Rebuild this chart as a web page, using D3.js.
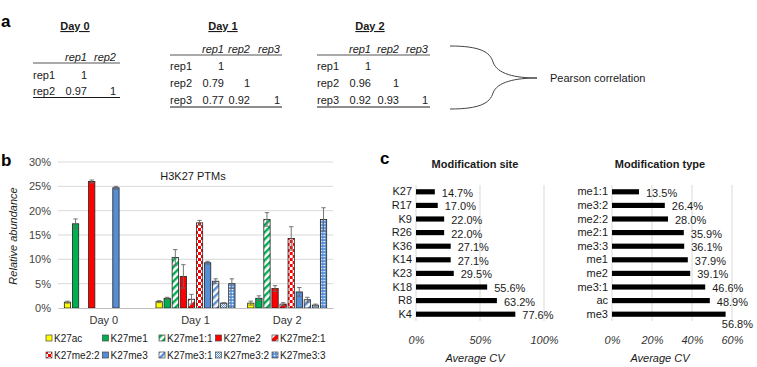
<!DOCTYPE html>
<html>
<head>
<meta charset="utf-8">
<script src="https://cdn.jsdelivr.net/npm/d3@7"></script>
<style>
  body { margin: 0; background: #fff; }
  svg { font-family: "Liberation Sans", Arial, sans-serif; }
</style>
</head>
<body>
<svg id="fig" width="757" height="367"></svg>
<script>
// panel a: replicate correlation tables
const day0Reps = ['rep1', 'rep2']
const day0Corr = [[1], [0.97, 1]]
const day1Reps = ['rep1', 'rep2', 'rep3']
const day1Corr = [[1], [0.79, 1], [0.77, 0.92, 1]]
const day2Reps = ['rep1', 'rep2', 'rep3']
const day2Corr = [[1], [0.96, 1], [0.92, 0.93, 1]]

// panel b: H3K27 PTMs relative abundance (%)
const days = ['Day 0', 'Day 1', 'Day 2']
const ptms = ['K27ac', 'K27me1', 'K27me1:1', 'K27me2', 'K27me2:1',
  'K27me2:2', 'K27me3', 'K27me3:1', 'K27me3:2', 'K27me3:3']
const day0Mean = [1.2, 17.3, 0, 26.0, 0, 0, 24.7, 0, 0, 0]
const day0Err = [0.2, 1.0, 0, 0.3, 0, 0, 0.3, 0, 0, 0]
const day1Mean = [1.3, 2.0, 10.4, 6.5, 1.8, 17.5, 9.3, 5.5, 1.0, 5.0]
const day1Err = [0.2, 0.2, 1.6, 2.4, 1.0, 0.5, 0.3, 0.5, 0.1, 1.0]
const day2Mean = [1.0, 2.0, 18.2, 4.0, 0.8, 14.3, 3.3, 1.7, 0.6, 18.2]
const day2Err = [0.4, 0.5, 1.4, 0.6, 0.3, 2.4, 0.9, 0.5, 0.2, 2.4]
const abundanceTicks = [0, 5, 10, 15, 20, 25, 30]

// panel c: average CV (%)
const sites = ['K27', 'R17', 'K9', 'R26', 'K36', 'K14', 'K23', 'K18', 'R8', 'K4']
const siteCV = [14.7, 17.0, 22.0, 22.0, 27.1, 27.1, 29.5, 55.6, 63.2, 77.6]
const types = ['me1:1', 'me3:2', 'me2:2', 'me2:1', 'me3:3', 'me1', 'me2', 'me3:1', 'ac', 'me3']
const typeCV = [13.5, 26.4, 28.0, 35.9, 36.1, 37.9, 39.1, 46.6, 48.9, 56.8]
const siteTicks = [0, 50, 100]
const typeTicks = [0, 20, 40, 60]

const svg = d3.select('#fig')
const ink = '#1a1a1a'
const grid = '#d9d9d9'

const green = '#00b050', red = '#ff0000', blue = '#558ed5', yellow = '#ffff00'

// ---------- patterns ----------
const defs = svg.append('defs')

function stripes(id, color, size, band) {
  const p = defs.append('pattern').attr('id', id)
    .attr('patternUnits', 'userSpaceOnUse')
    .attr('width', size).attr('height', size)
    .attr('patternTransform', 'rotate(45)')
  p.append('rect').attr('width', size).attr('height', size).attr('fill', '#fff')
  p.append('rect').attr('width', band).attr('height', size).attr('fill', color)
}
function checker(id, color, cell) {
  const p = defs.append('pattern').attr('id', id)
    .attr('patternUnits', 'userSpaceOnUse')
    .attr('width', cell * 2).attr('height', cell * 2)
  p.append('rect').attr('width', cell * 2).attr('height', cell * 2).attr('fill', '#fff')
  p.append('rect').attr('width', cell).attr('height', cell).attr('fill', color)
  p.append('rect').attr('x', cell).attr('y', cell).attr('width', cell).attr('height', cell).attr('fill', color)
}
function dots(id, color) {
  const p = defs.append('pattern').attr('id', id)
    .attr('patternUnits', 'userSpaceOnUse')
    .attr('width', 3).attr('height', 3)
  p.append('rect').attr('width', 3).attr('height', 3).attr('fill', color)
  p.append('circle').attr('cx', 1.5).attr('cy', 1.5).attr('r', 0.85).attr('fill', '#fff')
}
stripes('p-me11', green, 5, 2.4)
stripes('p-me21', red, 8, 4)
checker('p-me22', red, 3)
stripes('p-me31', blue, 5, 2.4)
checker('p-me32', blue, 1)
dots('p-me33', blue)

const fills = [yellow, green, 'url(#p-me11)', red, 'url(#p-me21)',
  'url(#p-me22)', blue, 'url(#p-me31)', 'url(#p-me32)', 'url(#p-me33)']

// ---------- panel letters ----------
svg.append('text').attr('x', 1).attr('y', 27).attr('font-size', 17).attr('font-weight', 'bold').text('a')
svg.append('text').attr('x', 1).attr('y', 166).attr('font-size', 17).attr('font-weight', 'bold').text('b')
svg.append('text').attr('x', 380).attr('y', 164).attr('font-size', 17).attr('font-weight', 'bold').text('c')

// ---------- panel a ----------
function drawTable(title, reps, corr, box) {
  const g = svg.append('g').attr('font-size', 11).attr('fill', ink)
  g.append('text')
    .attr('x', box.titleX).attr('y', 30)
    .attr('text-anchor', 'middle')
    .attr('font-weight', 'bold')
    .style('text-decoration', 'underline')
    .text(title)

  // header
  reps.forEach((r, i) => {
    g.append('text')
      .attr('x', box.cols[i]).attr('y', box.rule - 2)
      .attr('text-anchor', 'end')
      .attr('font-style', 'italic')
      .text(r)
  })
  g.append('line')
    .attr('x1', box.left).attr('x2', box.right)
    .attr('y1', box.rule).attr('y2', box.rule)
    .attr('stroke', '#555').attr('stroke-width', 1)

  // rows
  reps.forEach((r, i) => {
    const y = box.rule + box.first + i * box.pitch
    g.append('text').attr('x', box.left).attr('y', y).text(r)
    corr[i].forEach((v, j) => {
      g.append('text')
        .attr('x', box.cols[j]).attr('y', y)
        .attr('text-anchor', 'end')
        .text(v === 1 ? '1' : d3.format('.2f')(v))
    })
  })
  const last = box.rule + box.first + (reps.length - 1) * box.pitch + 3
  g.append('line')
    .attr('x1', box.left).attr('x2', box.right)
    .attr('y1', last).attr('y2', last)
    .attr('stroke', ink).attr('stroke-width', 1)
}

drawTable('Day 0', day0Reps, day0Corr, {left: 33, right: 120, titleX: 75, cols: [87, 116], rule: 63, first: 16, pitch: 15.5})
drawTable('Day 1', day1Reps, day1Corr, {left: 170, right: 282, titleX: 223, cols: [224, 250, 280], rule: 55, first: 15, pitch: 17})
drawTable('Day 2', day2Reps, day2Corr, {left: 317, right: 430, titleX: 370, cols: [371, 399, 428], rule: 55, first: 15, pitch: 17})

// brace to "Pearson correlation"
const brace = svg.append('g').attr('fill', 'none').attr('stroke', '#444').attr('stroke-width', 1)
brace.append('path').attr('d', 'M450,46 C480,46 490,52 493,62 C497,74 515,78 537,78')
brace.append('path').attr('d', 'M450,109 C480,109 490,103 493,93 C497,82 515,78 537,78')
svg.append('text').attr('x', 550).attr('y', 82).attr('font-size', 11).attr('fill', ink).text('Pearson correlation')

// ---------- panel b ----------
const means = [day0Mean, day1Mean, day2Mean]
const errs = [day0Err, day1Err, day2Err]

const x0 = d3.scaleBand().domain(days).range([58, 333]).paddingInner(0.138).paddingOuter(0.069)
const x1 = d3.scaleBand().domain(ptms).range([0, x0.bandwidth()]).paddingInner(0.22)
const y = d3.scaleLinear().domain([0, 30]).range([308, 162])

const b = svg.append('g')

b.append('g').selectAll('line')
  .data(abundanceTicks.slice(1))
  .join('line')
  .attr('x1', 58).attr('x2', 333)
  .attr('y1', d => y(d)).attr('y2', d => y(d))
  .attr('stroke', grid).attr('stroke-width', 1)

const yAxis = b.append('g')
  .attr('transform', 'translate(58,0)')
  .call(d3.axisLeft(y).tickValues(abundanceTicks).tickFormat(d => d + '%').tickSize(0).tickPadding(7))
yAxis.select('.domain').remove()
yAxis.selectAll('text').attr('font-size', 11).attr('fill', '#444').attr('font-family', null)

b.append('text')
  .attr('transform', 'translate(17,236) rotate(-90)')
  .attr('text-anchor', 'middle')
  .attr('font-size', 11)
  .attr('font-style', 'italic')
  .attr('fill', ink)
  .text('Relative abundance')

b.append('text')
  .attr('x', 193).attr('y', 180)
  .attr('text-anchor', 'middle')
  .attr('font-size', 11)
  .attr('fill', ink)
  .text('H3K27 PTMs')

days.forEach((day, di) => {
  const g = b.append('g').attr('transform', `translate(${x0(day)},0)`)
  const rows = ptms.map((k, i) => ({k, i, v: means[di][i], e: errs[di][i]})).filter(d => d.v > 0)

  g.selectAll('rect')
    .data(rows)
    .join('rect')
    .attr('x', d => x1(d.k))
    .attr('width', x1.bandwidth())
    .attr('y', d => y(d.v))
    .attr('height', d => y(0) - y(d.v))
    .attr('fill', d => fills[d.i])
    .attr('stroke', '#222').attr('stroke-width', 0.8)

  const eb = g.selectAll('g.err')
    .data(rows)
    .join('g').attr('class', 'err')
    .attr('stroke', '#666').attr('stroke-width', 0.9)
  const cx = d => x1(d.k) + x1.bandwidth() / 2
  eb.append('line')
    .attr('x1', cx).attr('x2', cx)
    .attr('y1', d => y(d.v - d.e)).attr('y2', d => y(d.v + d.e))
  eb.append('line')
    .attr('x1', d => cx(d) - 2.2).attr('x2', d => cx(d) + 2.2)
    .attr('y1', d => y(d.v + d.e)).attr('y2', d => y(d.v + d.e))
  eb.append('line')
    .attr('x1', d => cx(d) - 2.2).attr('x2', d => cx(d) + 2.2)
    .attr('y1', d => y(d.v - d.e)).attr('y2', d => y(d.v - d.e))
})

const xAxis = b.append('g')
  .attr('transform', `translate(0,${y(0)})`)
  .call(d3.axisBottom(x0).tickSize(0).tickPadding(8))
xAxis.select('.domain').attr('stroke', '#bfbfbf')
xAxis.selectAll('text').attr('font-size', 11).attr('fill', '#333').attr('font-family', null)

// legend
const legend = b.append('g').attr('font-size', 10).attr('fill', ink)
ptms.forEach((k, i) => {
  const col = i % 5, row = Math.floor(i / 5)
  const lx = 47 + col * 56.5, ly = 342 + row * 17
  legend.append('rect')
    .attr('x', lx - 1).attr('y', ly - 7)
    .attr('width', 6).attr('height', 6)
    .attr('fill', fills[i]).attr('stroke', '#444').attr('stroke-width', 0.7)
  legend.append('text').attr('x', lx + 7).attr('y', ly).text(k)
})

// ---------- panel c ----------
function drawCV(title, cats, vals, ticks, xr, labelMid) {
  const g = svg.append('g')
  const x = d3.scaleLinear().domain([0, d3.max(ticks)]).range(xr)
  const yb = d3.scaleBand().domain(cats).range([185, 321]).paddingInner(0.62).paddingOuter(0.31)

  g.append('text')
    .attr('x', labelMid).attr('y', 168)
    .attr('text-anchor', 'middle')
    .attr('font-size', 11).attr('font-weight', 'bold')
    .attr('fill', ink)
    .text(title)

  g.selectAll('line.grid')
    .data(ticks)
    .join('line').attr('class', 'grid')
    .attr('x1', d => x(d)).attr('x2', d => x(d))
    .attr('y1', 185).attr('y2', 321)
    .attr('stroke', grid).attr('stroke-width', 1)

  const ax = g.append('g')
    .attr('transform', 'translate(0,321)')
    .call(d3.axisBottom(x).tickValues(ticks).tickFormat(d => d + '%').tickSize(0).tickPadding(15))
  ax.select('.domain').remove()
  ax.selectAll('text').attr('font-size', 11).attr('font-style', 'italic').attr('fill', '#333').attr('font-family', null)

  const ay = g.append('g')
    .attr('transform', `translate(${xr[0] - 3},0)`)
    .call(d3.axisLeft(yb).tickSize(0).tickPadding(1))
  ay.select('.domain').remove()
  ay.selectAll('text').attr('font-size', 11).attr('fill', ink).attr('font-family', null)

  const data = cats.map((c, i) => ({c, v: vals[i]}))
  g.selectAll('rect')
    .data(data)
    .join('rect')
    .attr('x', x(0))
    .attr('y', d => yb(d.c))
    .attr('width', d => x(d.v) - x(0))
    .attr('height', yb.bandwidth())
    .attr('fill', '#000')

  g.selectAll('text.val')
    .data(data)
    .join('text').attr('class', 'val')
    .attr('font-size', 11).attr('fill', ink)
    .each(function (d) {
      const t = d3.select(this)
      const cy = yb(d.c) + yb.bandwidth() / 2
      const lx = x(d.v) + 7
      if (lx + 32 > 757) {
        t.attr('x', 753).attr('y', cy + 14).attr('text-anchor', 'end')
      } else {
        t.attr('x', lx).attr('y', cy + 5)
      }
    })
    .text(d => d.v.toFixed(1) + '%')

  g.append('text')
    .attr('x', labelMid).attr('y', 362)
    .attr('text-anchor', 'middle')
    .attr('font-size', 11).attr('font-style', 'italic')
    .attr('fill', ink)
    .text('Average CV')
}

drawCV('Modification site', sites, siteCV, siteTicks, [416, 544], 475)
drawCV('Modification type', types, typeCV, typeTicks, [612, 732], 660)
</script>
</body>
</html>
